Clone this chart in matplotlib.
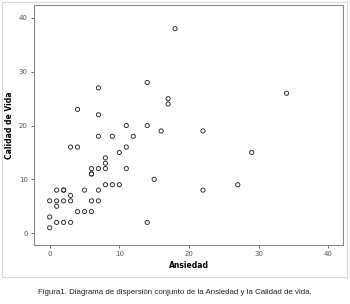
import matplotlib
matplotlib.use("Agg")
import matplotlib.pyplot as plt
from matplotlib.patches import Rectangle

# ── data ───────────────────────────────────────────────────────────────────
ansiedad = [0, 0, 0, 1, 1, 1, 1, 2, 2, 2, 2, 3, 3, 3, 3, 4, 4, 5, 5, 6, 6, 6,
            6, 6, 7, 7, 7, 7, 8, 8, 8, 8, 9, 9, 10, 10, 11, 11, 12, 14, 15, 16,
            4, 7, 7, 11, 14, 14, 17, 17, 18, 34, 22, 29, 27, 22]
calidad = [1, 3, 6, 6, 5, 8, 2, 8, 8, 6, 2, 7, 6, 2, 16, 16, 4, 4, 8, 4, 6, 11,
           11, 12, 12, 6, 8, 18, 12, 13, 14, 9, 9, 18, 9, 15, 16, 12, 18, 2, 10, 19,
           23, 27, 22, 20, 28, 20, 25, 24, 38, 26, 19, 15, 9, 8]
x_ticks = [0, 10, 20, 30, 40]
y_ticks = [0, 10, 20, 30, 40]
caption = "Figura1. Diagrama de dispersión conjunto de la Ansiedad y la Calidad de vida."

fig = plt.figure(figsize=(3.5, 3.04), dpi=100)

# light grey frame round the chart area
fig.patches.append(Rectangle((2 / 350, 1 - 277 / 304), 345 / 350, 275 / 304,
                             transform=fig.transFigure, fill=False,
                             edgecolor="#d8d8d8", linewidth=0.8))

ax = fig.add_axes([34 / 350, 1 - 245 / 304, 309 / 350, 240 / 304])
ax.scatter(ansiedad, calidad, s=9, facecolors="none", edgecolors="#333333",
           linewidths=0.7, zorder=3)

ax.set_xlim(-2.25, 42.1)
ax.set_ylim(-2.2, 42.4)
ax.set_xticks(x_ticks)
ax.set_yticks(y_ticks)
ax.tick_params(labelsize=5, colors="#555555", length=2.5, width=0.6, pad=2)
for sp in ax.spines.values():
    sp.set_color("#888888"); sp.set_linewidth(0.8)

ax.set_xlabel("Ansiedad", fontsize=5.5, fontweight="bold", labelpad=3)
ax.set_ylabel("Calidad de Vida", fontsize=5.5, fontweight="bold")
ax.yaxis.set_label_coords(-20 / 309, 0.5)

fig.text(0.5, 1 - 293 / 304, caption, ha="center", va="center",
         fontsize=5.7, family="Liberation Sans", color="#222222")

fig.savefig("out.png", dpi=100)
